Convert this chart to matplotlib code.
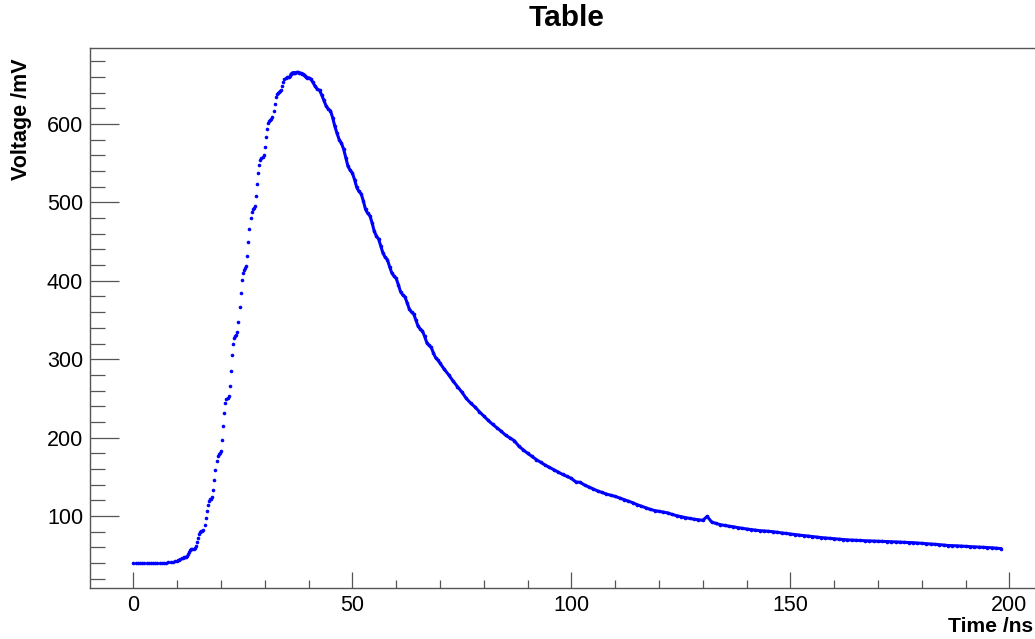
import numpy as np
import matplotlib
matplotlib.use("Agg")
import matplotlib.pyplot as plt
from matplotlib.ticker import MultipleLocator

plt.rcParams['font.family'] = ['Liberation Sans', 'DejaVu Sans']

# time /ns -> voltage /mV
t_base = np.arange(0, 10, 0.5)
v_base = [40.5, 40.2, 40.0, 40.3, 39.8, 40.1, 40.0, 39.7, 40.0, 40.2,
          39.8, 40.0, 40.1, 39.9, 40.2, 40.4, 40.8, 41.2, 41.8, 42.4]

t_rise = np.arange(10, 40, 0.25)
v_rise = [43.0, 43.5, 44.5, 45.5, 46.5, 47.0, 47.3, 47.6,
          48.0, 49.5, 52.0, 54.5, 56.5, 57.5, 58.0, 58.3,
          59.0, 62.0, 67.0, 72.0, 76.5, 79.5, 80.5, 81.0,
          82.0, 88.0, 97.0, 106.0, 114.0, 119.5, 121.5, 122.0,
          124.0, 133.0, 146.0, 159.0, 170.0, 176.5, 179.0, 180.5,
          183.0, 197.0, 215.0, 232.0, 244.0, 249.0, 250.5, 253.0,
          266.0, 285.0, 305.0, 320.0, 327.0, 330.0, 331.5, 335.0,
          348.0, 366.0, 385.0, 401.0, 410.0, 414.0, 416.0, 419.0,
          432.0, 449.0, 466.0, 480.0, 488.0, 491.0, 493.0, 496.0,
          508.0, 523.0, 537.0, 548.0, 554.0, 556.5, 558.0, 561.0,
          571.0, 583.0, 594.0, 601.0, 604.0, 605.5, 606.5, 609.0,
          617.0, 626.0, 634.0, 638.5, 640.0, 641.0, 641.5, 643.0,
          648.0, 653.0, 657.0, 659.0, 659.5, 660.0, 660.5, 661.5,
          663.5, 665.0, 665.5, 665.5, 665.5, 665.8, 665.8, 665.5,
          665.0, 664.5, 664.0, 663.5, 662.5, 661.5, 660.0, 659.0]

t_fall = np.arange(40, 70, 0.5)
v_fall = [659, 657.5, 653, 648, 644.5, 643, 637, 630, 623, 619,
          617, 608, 597, 588, 580, 575.5, 568, 557, 546, 541,
          537.5, 529, 519, 514, 511, 502, 491, 486, 483, 474,
          463, 457, 453, 444, 435, 430, 427, 418, 410, 406,
          403, 395, 386, 382, 379.5, 372, 364, 360, 357.5, 350,
          342, 338.5, 336, 329, 321, 317.5, 315, 308, 302, 299]

t_tail = np.arange(70, 199, 1)
v_tail = [295, 287, 280, 272, 265, 258, 250, 244, 239, 233,
          227.5, 222, 217, 212.5, 208, 203, 199.5, 196, 189, 184.5,
          180, 176, 172, 168.5, 165, 162, 159, 156, 153, 150.5,
          148, 143.5, 143, 139.5, 137, 134.5, 132, 130, 128, 126.5,
          125, 123, 121, 119, 117, 114.5, 112.5, 110.5, 108.5, 107,
          106, 105, 104, 102, 100.5, 99.2, 98, 97, 96, 95.3,
          94.5, 99.5, 92.5, 90.5, 89, 88, 87, 86.3, 85.2, 84.3,
          83.5, 82.8, 82, 81.3, 81, 80.5, 80, 79.2, 78.5, 77.8,
          77, 76.3, 75.6, 75, 74.5, 73.8, 73.2, 72.5, 72, 71.5,
          71, 70.4, 70, 69.6, 69.3, 69, 68.8, 68.5, 68.3, 68.1,
          68, 67.7, 67.5, 67.2, 67, 66.7, 66.5, 66.2, 66, 65.6,
          65.3, 64.9, 64.5, 64, 63.5, 63, 62.4, 62.2, 62, 61.6,
          61.3, 61, 60.7, 60.4, 60.2, 59.8, 59.5, 59, 58.5]

t = np.concatenate([t_base, t_rise, t_fall, t_tail])
v = np.concatenate([v_base, v_rise, v_fall, v_tail])

W, H = 1035, 639
fig = plt.figure(figsize=(W / 100, H / 100), dpi=100)
ax = fig.add_axes([90 / W, 51 / H, 954 / W, 540 / H])

ax.plot(t, v, 'o', color='#0000ff', ms=2.6, mew=0)
late = t >= 36
ax.plot(t[late], v[late], '-', color='#0000ff', lw=2.2)

ax.set_xlim(-9.9, 207.9)
ax.set_ylim(8.2, 696.9)

ax.xaxis.set_major_locator(MultipleLocator(50))
ax.xaxis.set_minor_locator(MultipleLocator(10))
ax.yaxis.set_major_locator(MultipleLocator(100))
ax.yaxis.set_minor_locator(MultipleLocator(20))
ax.set_yticks([100, 200, 300, 400, 500, 600])

edge = '#555555'
for s in ['left', 'bottom', 'top']:
    ax.spines[s].set_color(edge)
    ax.spines[s].set_linewidth(1.0)
ax.spines['right'].set_visible(False)

ax.tick_params(axis='x', which='major', direction='in', length=11.5, width=0.9,
               color=edge, labelsize=15.5, pad=5)
ax.tick_params(axis='x', which='minor', direction='in', length=5.8, width=0.9, color=edge)
ax.tick_params(axis='y', which='major', direction='in', length=20.9, width=0.9,
               color=edge, labelsize=15.5, pad=5)
ax.tick_params(axis='y', which='minor', direction='in', length=10.8, width=0.9, color=edge)

fig.text(566.8 / W, 1 - 18 / H, 'Table', ha='center', va='center',
         fontsize=21.5, fontweight='bold')
fig.text(1033 / W, 7 / H, 'Time /ns', ha='right', va='baseline',
         fontsize=15.2, fontweight='bold')
fig.text(22 / W, 1 - 58 / H, 'Voltage /mV', ha='center', va='top', rotation=90,
         fontsize=15.5, fontweight='bold')

fig.savefig('out.png', dpi=100)
